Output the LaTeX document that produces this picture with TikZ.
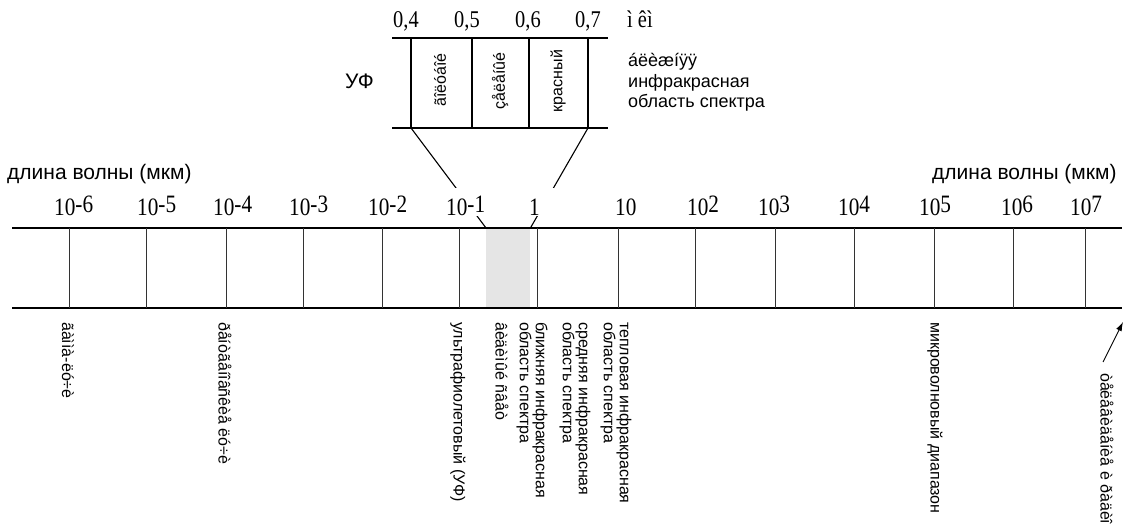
\documentclass[tikz,border=0pt]{standalone}
\usepackage{fontspec}
\setmainfont{Liberation Sans}
\newfontfamily\tms[FakeStretch=0.85]{Liberation Serif}
\usetikzlibrary{arrows.meta}
\newcommand\expo[1]{\raisebox{3pt}{#1}}
\begin{document}
\begin{tikzpicture}[x=1pt,y=-1pt,
  bar/.style={line width=1.6pt},
  vline/.style={line width=0.9pt, black!80},
  boxline/.style={line width=1.3pt},
  conn/.style={line width=1.1pt},
  tick/.style={font=\tms\fontsize{25}{25}\selectfont, anchor=base west, fill=white, inner xsep=1pt, inner ysep=0pt, text height=28pt},
  boxnum/.style={font=\tms\fontsize{24}{24}\selectfont, anchor=base west, inner sep=0pt},
  botlab/.style={font=\fontsize{16}{16}\selectfont, rotate=-90, anchor=west, align=left, inner sep=0pt},
  boxlab/.style={font=\fontsize{16}{16}\selectfont, rotate=90, inner sep=0pt},
  captxt/.style={font=\fontsize{21}{21}\selectfont, anchor=base west, inner sep=0pt},
  side/.style={font=\fontsize{18}{18}\selectfont, anchor=base west, inner sep=0pt},
  arr/.style={line width=0.9pt, -{Latex[length=9pt,width=6pt]}}]
\useasboundingbox (0,0) rectangle (1125,529);
% visible region highlight
\node[fill=black!10, minimum width=44pt, minimum height=80pt, anchor=north west, inner sep=0pt] (vis) at (486,228) {};
% main bar
\draw[bar] (12,228) -- (1122,228);
\draw[bar] (12,308) -- (1122,308);
\foreach \x in {69,146,226,303,382,459,537,618,695,775,854,934,1013,1085}
  \draw[vline] (\x,228) -- (\x,308);
% zoomed box
\draw[boxline] (392,38) -- (608,38);
\draw[boxline] (392,128) -- (608,128);
\foreach \x in {411,472,529,588}
  \draw[boxline] (\x,38) -- (\x,128);
\coordinate (boxBL) at (411,128);
\coordinate (boxBR) at (588,128);
\draw[conn] (boxBL) -- (vis.north west);
\draw[conn] (boxBR) -- (vis.north east);
% box numbers
\node[boxnum] (n4) at (393,28) {0,4};
\node[boxnum] (n5) at (454,28) {0,5};
\node[boxnum] (n6) at (515,28) {0,6};
\node[boxnum] (n7) at (575,28) {0,7};
\node[boxnum] (unit) at (627,28) {ì êì};
\node[captxt] (uf) at (345,89) {УФ};
\node[boxlab] (blue) at (440,80) {ãîëóáîé};
\node[boxlab] (green) at (500,81) {çåëåíûé};
\node[boxlab] (red) at (558,81) {красный};
\node[side] (s1) at (628,67) {áëèæíÿÿ};
\node[side] (s2) at (628,88) {инфракрасная};
\node[side] (s3) at (628,108) {область спектра};
% captions
\node[captxt] (capL) at (7,180) {длина волны (мкм)};
\node[captxt] (capR) at (932,180) {длина волны (мкм)};
% tick labels
\node[tick] (t1) at (53,216) {10\expo{-6}};
\node[tick] (t2) at (136,216) {10\expo{-5}};
\node[tick] (t3) at (212,216) {10\expo{-4}};
\node[tick] (t4) at (288,216) {10\expo{-3}};
\node[tick] (t5) at (367,216) {10\expo{-2}};
\node[tick] (t6) at (445,216) {10\expo{-1}};
\node[tick, text width=24pt, align=left] (t7) at (528,216) {1};
\node[tick] (t8) at (614,216) {10};
\node[tick] (t9) at (686,216) {10\expo{2}};
\node[tick] (t10) at (757,216) {10\expo{3}};
\node[tick] (t11) at (837,216) {10\expo{4}};
\node[tick] (t12) at (918,216) {10\expo{5}};
\node[tick] (t13) at (1000,216) {10\expo{6}};
\node[tick] (t14) at (1069,216) {10\expo{7}};
% bottom labels
\node[botlab] (gamma) at (68,322) {ãàììà-ëó÷è};
\node[botlab] (xray) at (225,322) {ðåíòãåíîâñêèå ëó÷è};
\node[botlab] (uv) at (458,322) {ультрафиолетовый (УФ)};
\node[botlab] (vislab) at (502,322) {âèäèìûé ñâåò};
\node[botlab] (nir) at (532,322) {ближняя инфракрасная\\область спектра};
\node[botlab] (mir) at (575,322) {средняя инфракрасная\\область спектра};
\node[botlab] (fir) at (616,322) {тепловая инфракрасная\\область спектра};
\node[botlab] (mw) at (935,322) {микроволновый диапазон};
\node[botlab] (tv) at (1107,373) {òåëåâèäåíèå è ðàäèî};
\coordinate (a0) at (1103,362);
\coordinate (a1) at (1123,322);
\draw[arr] (a0) -- (a1);
\end{tikzpicture}
\end{document}
